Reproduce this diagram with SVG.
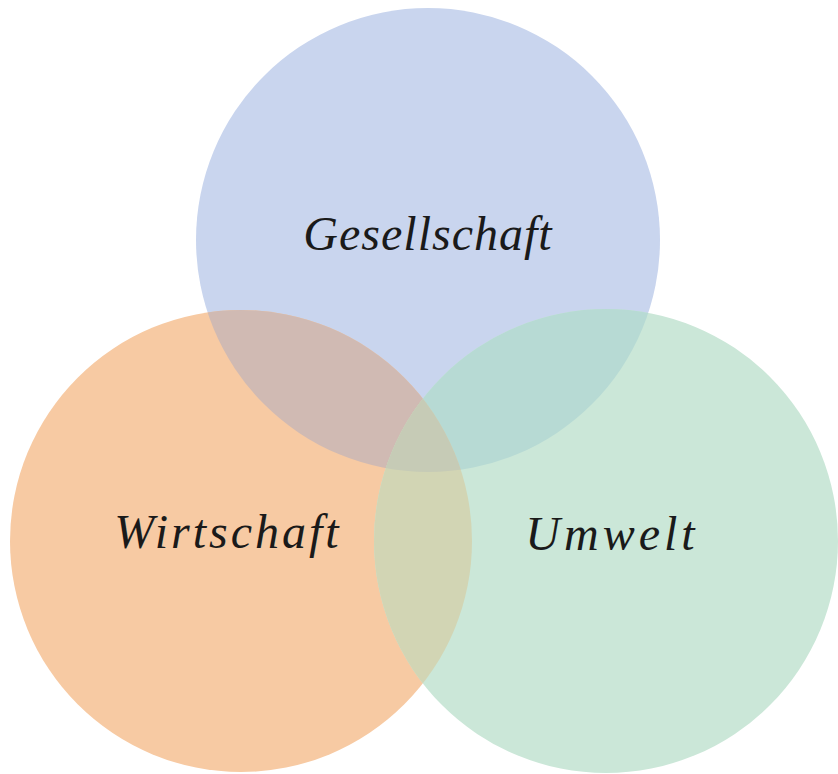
<svg xmlns="http://www.w3.org/2000/svg" width="838" height="774" viewBox="0 0 838 774">
<style>
.t{font-family:"Liberation Serif","DejaVu Serif",serif;font-style:italic;font-size:48px;fill:#1a1a1a;text-anchor:middle;letter-spacing:1px}
</style>
<defs>
<clipPath id="cB"><circle cx="428" cy="240" r="232"/></clipPath>
<clipPath id="cO"><circle cx="241" cy="541" r="231"/></clipPath>
<clipPath id="cG"><circle cx="606" cy="541" r="232"/></clipPath>
</defs>
<rect width="838" height="774" fill="#ffffff"/>
<g id="gesellschaft">
<circle cx="428" cy="240" r="232" fill="#c9d5ee"/>
</g>
<g id="wirtschaft">
<circle cx="241" cy="541" r="231" fill="#f7caa3"/>
</g>
<g id="umwelt">
<circle cx="606" cy="541" r="232" fill="#cbe7d8"/>
</g>
<g id="overlaps">
<g clip-path="url(#cB)"><circle cx="241" cy="541" r="231" fill="#d0bab3"/><circle cx="606" cy="541" r="232" fill="#b7dad4"/></g>
<g clip-path="url(#cO)"><circle cx="606" cy="541" r="232" fill="#d2d5b4"/></g>
<g clip-path="url(#cB)"><g clip-path="url(#cO)"><circle cx="606" cy="541" r="232" fill="#c6cbb6"/></g></g>
</g>
<g id="labels">
<text class="t" x="428" y="250">Gesellschaft</text>
<text class="t" x="228" y="548" style="letter-spacing:3px">Wirtschaft</text>
<text class="t" x="612" y="550" style="letter-spacing:4px">Umwelt</text>
</g>
</svg>
